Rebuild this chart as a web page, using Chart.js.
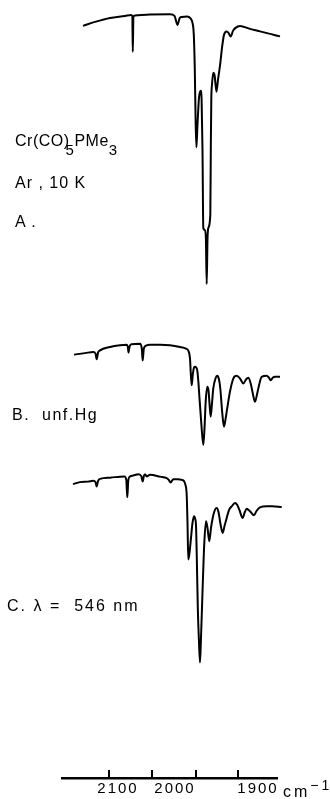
<!DOCTYPE html>
<html>
<head>
<meta charset="utf-8">
<script src="https://cdn.jsdelivr.net/npm/chart.js@4"></script>
<style>
  html, body { margin:0; padding:0; background:#fff; }
  #wrap { position:relative; width:330px; height:799px; overflow:hidden; }
  canvas { display:block; }
  .lbl { position:absolute; font-family:"Liberation Sans", Arial, sans-serif; font-size:16px;
         line-height:16px; color:#000; letter-spacing:1px; white-space:nowrap; }
  .lbl sub { font-size:15px; vertical-align:-9px; line-height:0; }
  .lbl sup { font-size:14px; vertical-align:7px; line-height:0; }
</style>
</head>
<body>
<div id="wrap">
  <canvas id="irChart" width="330" height="799"></canvas>
  <div class="lbl" style="left:15px;top:133px;letter-spacing:0.5px;">Cr(CO)<sub style="margin-left:-4px">5</sub>PMe<sub>3</sub></div>
  <div class="lbl" style="left:15px;top:174.5px;">Ar , 10 K</div>
  <div class="lbl" style="left:15px;top:213.5px;">A .</div>
  <div class="lbl" style="left:12px;top:406.5px;letter-spacing:1.5px;">B.&nbsp; unf.Hg</div>
  <div class="lbl" style="left:7px;top:598px;letter-spacing:2px;">C. λ = &nbsp;546 nm</div>
  <div class="lbl" style="left:283px;top:783.5px;letter-spacing:3px;">cm<sup>−1</sup></div>
</div>
<script>
// spectrum A : Cr(CO)5PMe3 in Ar, 10 K  (x = chart position, y = pen position)
const specA_x = [83,95,110,125,131,132.3,132.8,133.4,135,150,170,174.5,177.5,179.5,182,187,190.5,192.5,193.8,194.8,195.6,196.4,197.5,199,200.6,201.6,202.5,203.3,205,205.9,206.7,207.5,208.3,210.3,210.8,211.3,212,213.3,214.5,216.5,218,220,222,224,226.7,228.5,230.7,233,235.5,240,250,260,270,280,291.7];
const specA_y = [26,22,18,16,15,16,52,17,15.5,14.5,14.3,16,25,18.5,17,16.5,18.5,23,35,70,120,148,125,98,91,100,150,229,231,240,285,240,229,216,150,100,85,73,75,92,80,66,48,35,31.7,33,36.7,31,28,26,29,31.5,34,36.5,40];

// spectrum B : after unfiltered Hg photolysis
const specB_x = [74,85,93.3,95.5,96.7,98,100,110,120,126.7,127.8,128.5,129.5,131.5,140,141.8,142.7,143.8,146,150,160,170,180,186,188.3,190,190.8,191.7,192.8,194,195,196.2,197.3,198.5,199.3,201.3,203.3,204.5,205.7,207.3,208.5,209.5,210.7,212,213.3,215.5,217.3,219,220.3,222.3,224,225.5,226.7,230,233.3,236.7,240,243.3,246,248.3,250.7,252.8,255,256.8,258.3,261.7,266.7,268.8,270.7,273,275,280,285];
const specB_y = [356,354.5,353.3,355,360.7,354,351.7,348.3,346.5,346,348,354,348,345.5,345,350,362,350,347,346,346,346.5,348.3,350,352,360,375,386.7,376,369,368.3,369,372,385,397,425,446.7,430,403,388.3,392,405,418.3,405,390,380,377.3,381,390,415,428.3,421,413.3,393,380,377.3,380,385,381,379.3,385,395,403.3,397,390,378.3,377.3,379,381.7,379,378.3,378.3,379.3];

// spectrum C : after lambda = 546 nm photolysis
const specC_x = [73,80,88,93.3,95.5,96.7,98,100,110,120,124.5,126.3,127.3,128.3,130,133.3,138.3,141.3,142.7,143.8,145,146.7,150,160,166.7,168.5,170.7,173.3,178,181.7,184,185.5,186.7,187.5,188.3,189.5,191,192.5,194,195.2,196,196.8,197.8,199,200,201,202,202.8,203.5,204.3,206,207.5,209.3,211,212.7,214.5,216.7,218.5,220.3,222.7,224.5,226.7,229,231.7,235,237.3,239.3,242.7,244.5,246.7,248.7,250.7,254,256.5,260,266.7,272,281.7];
const specC_y = [486,484,483.5,482.7,484,488.3,483,480.7,479.5,478.5,478.3,482,499.3,482,478.3,477.3,476,478,483.3,478,476,478.3,476.7,478.5,480,481.5,484.3,481,481,481.7,483,487,497,525,561.7,555,540,525,518.3,521,527,560,610,645,665,640,610,585,565,545,523.3,530,543.3,530,520,513,510,514,525,535,528,520,512,508.3,505,507,511.7,520,515,510.7,512,514,517.3,513,509.3,508.3,508.3,509];

// axis
const tickMarks = [109, 152, 196, 238];
const tickLabels = ['2100', '2000', '1900'];
const labelPos = [118, 175, 258];

const pts = (xs, ys) => xs.map((x, i) => ({ x, y: ys[i] }));
const INK = '#000';

function trace(xs, ys){
  return {
    data: pts(xs, ys),
    borderColor: INK,
    borderWidth: 2,
    pointRadius: 0,
    fill: false,
    clip: false,
    cubicInterpolationMode: 'monotone'
  };
}

const spacing = {
  id: 'spacing',
  beforeDraw(chart){ chart.ctx.letterSpacing = '2px'; }
};

new Chart(document.getElementById('irChart').getContext('2d'), {
  type: 'line',
  data: {
    datasets: [trace(specA_x, specA_y), trace(specB_x, specB_y), trace(specC_x, specC_y)]
  },
  options: {
    responsive: false,
    animation: false,
    devicePixelRatio: 1,
    layout: { padding: { left: 62, right: 53, top: 0, bottom: 0 } },
    plugins: { legend: { display: false }, tooltip: { enabled: false } },
    scales: {
      y: { type: 'linear', display: false, reverse: true, min: 0, max: 773 },
      x: {
        type: 'linear', position: 'bottom', min: 62, max: 277,
        border: { display: false },
        grid: { drawOnChartArea: false, drawTicks: true, tickLength: 8, color: INK, lineWidth: 2 },
        ticks: { display: false },
        afterBuildTicks: s => { s.ticks = tickMarks.map(v => ({ value: v })); }
      },
      xl: {
        type: 'linear', position: 'bottom', min: 62, max: 277,
        border: { display: true, color: INK, width: 2.5 },
        grid: { drawOnChartArea: false, drawTicks: false },
        ticks: {
          padding: 3, color: INK, maxRotation: 0, autoSkip: false,
          font: { family: '"Liberation Sans", Arial, sans-serif', size: 15, lineHeight: 1 },
          callback: (v, i) => tickLabels[i]
        },
        afterBuildTicks: s => { s.ticks = labelPos.map(v => ({ value: v })); }
      }
    }
  },
  plugins: [spacing]
});
</script>
</body>
</html>
